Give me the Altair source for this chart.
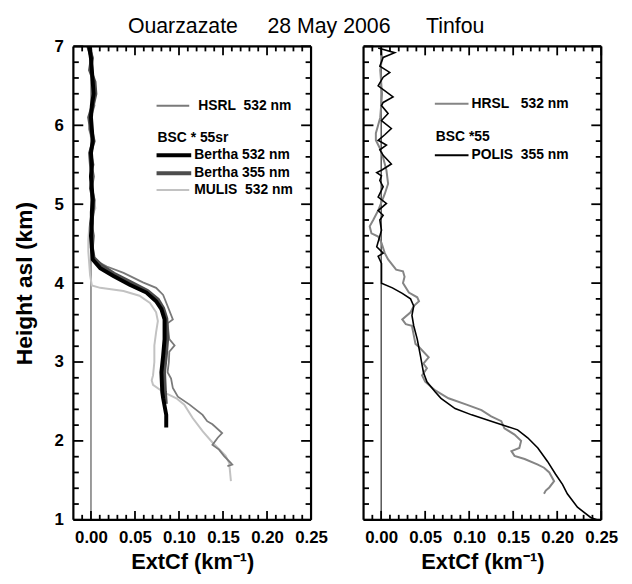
import altair as alt
import pandas as pd

FONT = "Liberation Sans"
NB = "\u00a0"

# ---------------- Left panel: Ouarzazate ----------------
hsrl_l_y = [7.00, 6.85, 6.70, 6.55, 6.40, 6.25, 6.10, 5.95, 5.80, 5.65, 5.50, 5.35, 5.20, 5.05, 4.90,
            4.75, 4.60, 4.45, 4.31, 4.21, 4.13, 4.01, 3.94, 3.85, 3.71, 3.54, 3.49, 3.39, 3.29, 3.21,
            3.13, 3.00, 2.87, 2.79, 2.67, 2.56, 2.46, 2.33, 2.25, 2.21, 2.10, 2.04, 1.95, 1.89, 1.81,
            1.72, 1.70, 1.68]
hsrl_l_x = [0.000, 0.002, -0.001, 0.003, 0.001, 0.004, 0.000, -0.002, 0.002, 0.000, 0.003, -0.001,
            0.001, 0.003, 0.001, 0.000, 0.001, 0.002, 0.001, 0.018, 0.037, 0.059, 0.074, 0.082, 0.087,
            0.093, 0.087, 0.088, 0.089, 0.095, 0.089, 0.0885, 0.087, 0.091, 0.093, 0.0987, 0.112,
            0.1268, 0.132, 0.138, 0.149, 0.144, 0.138, 0.1455, 0.151, 0.159, 0.1605, 0.155]

mulis_y = [7.00, 6.85, 6.70, 6.55, 6.40, 6.25, 6.10, 5.95, 5.80, 5.65, 5.50, 5.35, 5.20, 5.05, 4.95,
           4.85, 4.70, 4.55, 4.40, 4.25, 4.10, 3.97, 3.94, 3.90, 3.84, 3.75, 3.63, 3.52, 3.38, 3.21,
           3.00, 2.83, 2.77, 2.71, 2.62, 2.54, 2.46, 2.29, 2.12, 1.98, 1.81, 1.72, 1.49]
mulis_x = [-0.002, 0.000, 0.002, 0.001, 0.004, 0.001, -0.001, -0.002, 0.001, -0.001, 0.001, 0.000,
           0.002, 0.003, 0.005, 0.001, -0.002, -0.003, -0.003, -0.002, -0.001, 0.001, 0.0105, 0.037,
           0.055, 0.067, 0.074, 0.076, 0.074, 0.072, 0.072, 0.0705, 0.069, 0.0705, 0.082, 0.097,
           0.106, 0.1155, 0.127, 0.138, 0.153, 0.157, 0.159]

b532_y = [7.00, 6.85, 6.70, 6.55, 6.40, 6.25, 6.10, 5.95, 5.80, 5.65, 5.50, 5.35, 5.20, 5.05, 4.90,
          4.75, 4.60, 4.45, 4.30, 4.19, 4.09, 3.98, 3.88, 3.77, 3.67, 3.54, 3.29, 3.08, 2.87, 2.62,
          2.54, 2.33, 2.17]
b532_x = [-0.002, 0.000, 0.001, 0.002, 0.003, 0.001, 0.000, 0.001, 0.002, 0.000, 0.001, 0.000,
          0.001, 0.002, 0.001, 0.001, 0.000, 0.001, 0.002, 0.0105, 0.0255, 0.044, 0.063, 0.074,
          0.080, 0.0836, 0.0836, 0.082, 0.080, 0.081, 0.082, 0.0855, 0.0855]

b355_y = [7.00, 6.85, 6.70, 6.55, 6.40, 6.25, 6.10, 5.95, 5.80, 5.65, 5.50, 5.35, 5.20, 5.05, 4.90,
          4.75, 4.60, 4.45, 4.32, 4.22, 4.12, 4.01, 3.90, 3.79, 3.68, 3.55, 3.30, 3.08, 2.87, 2.62,
          2.47]
b355_x = [-0.003, 0.001, -0.001, 0.004, 0.005, 0.002, -0.002, 0.000, 0.003, -0.001, 0.000, 0.002,
          0.000, 0.003, 0.002, 0.000, 0.002, 0.001, 0.003, 0.012, 0.026, 0.045, 0.064, 0.076,
          0.082, 0.0856, 0.0866, 0.085, 0.083, 0.084, 0.085]

# ---------------- Right panel: Tinfou ----------------
hrsl_r_y = [7.00, 6.85, 6.70, 6.55, 6.40, 6.25, 6.10, 5.98, 5.90, 5.81, 5.70, 5.59, 5.43, 5.26, 5.13,
            4.92, 4.80, 4.72, 4.63, 4.59, 4.51, 4.38, 4.30, 4.17, 4.15, 4.08, 4.00, 3.88, 3.82, 3.77,
            3.71, 3.63, 3.54, 3.48, 3.46, 3.34, 3.23, 3.19, 3.06, 2.98, 2.92, 2.83, 2.75, 2.64, 2.54,
            2.46, 2.39, 2.31, 2.25, 2.16, 2.08, 2.00, 1.91, 1.87, 1.81, 1.77, 1.70, 1.66, 1.60, 1.49,
            1.41, 1.37, 1.33]
hrsl_r_x = [0.000, 0.001, -0.001, 0.000, 0.001, 0.000, -0.001, -0.004, -0.006, -0.006, -0.001, 0.0023,
            0.006, 0.0079, 0.0041, -0.0034, -0.009, -0.013, -0.011, -0.0034, 0.0004, 0.0041, 0.0079,
            0.017, 0.0248, 0.0266, 0.0248, 0.0315, 0.041, 0.043, 0.037, 0.0334, 0.024, 0.028, 0.035,
            0.037, 0.039, 0.043, 0.054, 0.048, 0.052, 0.0465, 0.050, 0.0615, 0.0765, 0.097, 0.114,
            0.125, 0.1365, 0.140, 0.1515, 0.159, 0.157, 0.148, 0.1515, 0.163, 0.178, 0.185, 0.191,
            0.1965, 0.191, 0.187, 0.185]

polis_y = [6.98, 6.92, 6.86, 6.75, 6.67, 6.61, 6.50, 6.36, 6.29, 6.25, 6.15, 6.06, 5.96, 5.88, 5.81,
           5.75, 5.69, 5.62, 5.51, 5.43, 5.40, 5.36, 5.30, 5.22, 5.09, 5.01, 4.92, 4.86, 4.80, 4.67,
           4.46, 4.38, 4.34, 4.25, 4.00, 3.94, 3.87, 3.80, 3.71, 3.59, 3.46, 3.29, 3.08, 2.87, 2.75,
           2.62, 2.54, 2.41, 2.33, 2.25, 2.18, 2.14, 2.04, 1.91, 1.74, 1.58, 1.45, 1.33, 1.16, 1.03,
           1.00]
polis_x = [-0.0034, 0.0154, 0.0023, -0.0015, 0.0098, 0.0023, -0.0034, 0.0135, 0.0023, 0.0004, 0.0079,
           0.0004, 0.0116, 0.0041, -0.0034, 0.006, -0.0015, 0.0023, 0.0116, 0.0004, -0.005, 0.0004,
           -0.0015, 0.0023, -0.0034, 0.006, -0.0034, 0.0023, -0.0015, 0.0004, -0.005, 0.0023,
           -0.0034, 0.0004, 0.0004, 0.0128, 0.024, 0.0334, 0.037, 0.035, 0.037, 0.041, 0.0446,
           0.048, 0.052, 0.0615, 0.068, 0.084, 0.1028, 0.125, 0.144, 0.155, 0.1665, 0.178, 0.189,
           0.198, 0.206, 0.2115, 0.223, 0.238, 0.245]

zero_x = [0.0, 0.0]
zero_y = [1.0, 7.0]

# axes / ticks
X_MIN, X_MAX = -0.02, 0.25
Y_MIN, Y_MAX = 1.0, 7.0
x_major = [0.00, 0.05, 0.10, 0.15, 0.20, 0.25]
x_minor = [round(i * 0.01, 2) for i in range(-1, 26) if i % 5 != 0]
y_major = [1, 2, 3, 4, 5, 6, 7]
y_minor = [round(1 + i * 0.2, 1) for i in range(31) if i % 5 != 0]

title_text = "Ouarzazate" + NB * 5 + "28 May 2006" + NB * 6 + "Tinfou"
x_title = "ExtCf (km\u207b\u00b9)"
y_title = "Height asl (km)"

left_legend = ["HSRL" + NB * 2 + "532 nm", "BSC * 55sr", "Bertha 532 nm", "Bertha 355 nm",
               "MULIS" + NB * 2 + "532 nm"]
right_legend = ["HRSL" + NB * 3 + "532 nm", "BSC *55", "POLIS" + NB * 2 + "355 nm"]

W, H = 240, 478
PX_X = (X_MAX - X_MIN) / W
PX_Y = (Y_MAX - Y_MIN) / H
xscale = alt.Scale(domain=[X_MIN, X_MAX], nice=False, zero=False)
yscale = alt.Scale(domain=[Y_MIN, Y_MAX], nice=False, zero=False)

XAXIS = alt.Axis(values=x_major, format=".2f", title=x_title, ticks=False, domain=False, grid=False,
                 labelFontSize=17, labelPadding=10, labelFlush=False, titleFontSize=22,
                 titlePadding=6)
YAXIS = alt.Axis(values=y_major, format="d", title=y_title, ticks=False, domain=False, grid=False,
                 labelFontSize=17, labelPadding=10, labelFlush=False, titleFontSize=23,
                 titlePadding=18)


def series(xs, ys):
    return pd.DataFrame({"x": xs, "y": ys, "i": list(range(len(xs)))})


def frame_table():
    rows = [(X_MIN, X_MAX, Y_MIN, Y_MIN), (X_MIN, X_MAX, Y_MAX, Y_MAX),
            (X_MIN, X_MIN, Y_MIN, Y_MAX), (X_MAX, X_MAX, Y_MIN, Y_MAX)]
    return pd.DataFrame(rows, columns=["x", "x2", "y", "y2"])


def tick_table():
    rows = []
    for v in x_major:
        rows += [(v, v, Y_MIN, Y_MIN + 9 * PX_Y), (v, v, Y_MAX, Y_MAX - 9 * PX_Y)]
    for v in x_minor:
        rows += [(v, v, Y_MIN, Y_MIN + 5 * PX_Y), (v, v, Y_MAX, Y_MAX - 5 * PX_Y)]
    for v in y_major:
        rows += [(X_MIN, X_MIN + 10 * PX_X, v, v), (X_MAX, X_MAX - 10 * PX_X, v, v)]
    for v in y_minor:
        rows += [(X_MIN, X_MIN + 5.5 * PX_X, v, v), (X_MAX, X_MAX - 5.5 * PX_X, v, v)]
    return pd.DataFrame(rows, columns=["x", "x2", "y", "y2"])


def build_panel(line_specs, legend_specs, ya):
    layers = []
    for xs, ys, color, width in line_specs:
        layers.append(alt.Chart(series(xs, ys)).mark_line(color=color, strokeWidth=width).encode(
            x=alt.X("x:Q", scale=xscale, axis=XAXIS), y=alt.Y("y:Q", scale=yscale, axis=ya),
            order="i:Q"))
    for tbl, w in [(frame_table(), 2.2), (tick_table(), 1.8)]:
        layers.append(alt.Chart(tbl).mark_rule(color="black", strokeWidth=w).encode(
            x=alt.X("x:Q", scale=xscale, axis=XAXIS), x2="x2:Q",
            y=alt.Y("y:Q", scale=yscale, axis=ya), y2="y2:Q"))
    one = pd.DataFrame({"a": [0]})
    for spec in legend_specs:
        if spec[0] == "line":
            _, x0, x1, y, color, width = spec
            layers.append(alt.Chart(one).mark_rule(color=color, strokeWidth=width).encode(
                x=alt.value(x0), x2=alt.value(x1), y=alt.value(y)))
        else:
            _, x, y, label = spec
            layers.append(alt.Chart(one).mark_text(
                align="left", baseline="middle", fontSize=14, fontWeight="bold",
                color="black").encode(x=alt.value(x), y=alt.value(y), text=alt.value(label)))
    return alt.layer(*layers).properties(width=W, height=H)


GRAY = "#7a7a7a"
LIGHT = "#c2c2c2"
DARK = "#4d4d4d"
RGRAY = "#858585"

left = build_panel(
    [(zero_x, zero_y, GRAY, 1.5),
     (mulis_x, mulis_y, LIGHT, 2),
     (hsrl_l_x, hsrl_l_y, GRAY, 1.8),
     (b355_x, b355_y, DARK, 4),
     (b532_x, b532_y, "black", 4)],
    [("line", 84, 117, 60, GRAY, 2), ("text", 126, 60, left_legend[0]),
     ("text", 85, 93, left_legend[1]),
     ("line", 84, 119, 110, "black", 4), ("text", 122, 110, left_legend[2]),
     ("line", 84, 119, 128, DARK, 4), ("text", 122, 128, left_legend[3]),
     ("line", 84, 117, 145, LIGHT, 2), ("text", 122, 145, left_legend[4])],
    YAXIS)

right = build_panel(
    [(zero_x, zero_y, "black", 1),
     (hrsl_r_x, hrsl_r_y, RGRAY, 2),
     (polis_x, polis_y, "black", 1.6)],
    [("line", 72, 106, 58, RGRAY, 2), ("text", 109, 58, right_legend[0]),
     ("text", 73, 92, right_legend[1]),
     ("line", 72, 106, 110, "black", 2), ("text", 109, 110, right_legend[2])],
    None)

chart = alt.hconcat(left, right, spacing=33).properties(
    title=alt.TitleParams(text=title_text, anchor="start", dx=116, offset=0, fontSize=21.5,
                          fontWeight="normal"),
).configure_view(stroke=None).configure(font=FONT).configure_axis(
    labelFont=FONT, titleFont=FONT, labelFontWeight="bold", titleFontWeight="bold",
    labelColor="black", titleColor="black").configure_title(font=FONT, color="black")

chart.save("out.html", embed_options={"renderer": "svg", "actions": False})
